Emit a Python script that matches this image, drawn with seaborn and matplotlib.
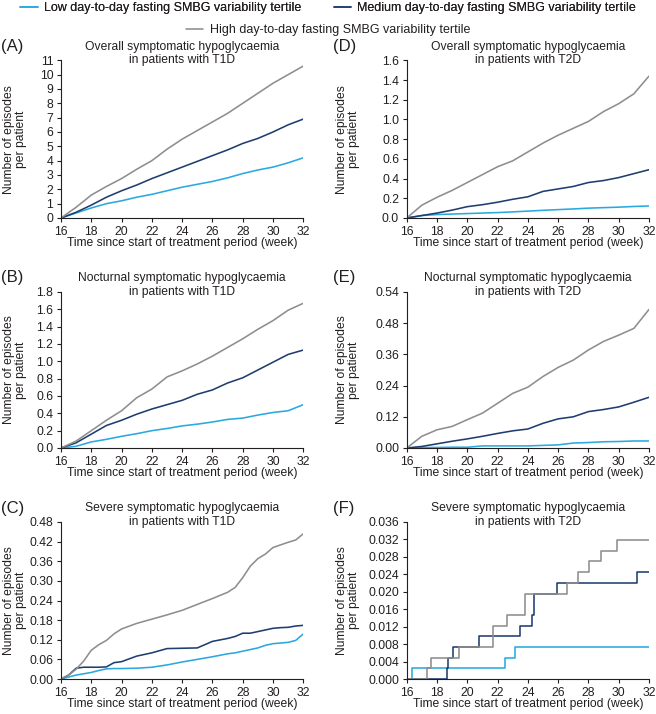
import matplotlib
matplotlib.use("Agg")
import matplotlib.pyplot as plt
from matplotlib.lines import Line2D
import pandas as pd
import seaborn as sns

# ---------------- data ----------------
series_names = [
    "Low day-to-day fasting SMBG variability tertile",
    "Medium day-to-day fasting SMBG variability tertile",
    "High day-to-day fasting SMBG variability tertile",
]
series_colors = ["#29a9e0", "#203d70", "#8e8e8e"]

weeks = [16, 17, 18, 19, 20, 21, 22, 23, 24, 25, 26, 27, 28, 29, 30, 31, 32]

# (A) Overall symptomatic, T1D
a_low = [0, 0.35, 0.7, 1.0, 1.2, 1.45, 1.65, 1.9, 2.15, 2.35, 2.55, 2.8, 3.1, 3.35, 3.55, 3.85, 4.2]
a_med = [0, 0.4, 0.9, 1.45, 1.9, 2.3, 2.75, 3.15, 3.55, 3.95, 4.35, 4.75, 5.2, 5.55, 6.0, 6.5, 6.9]
a_high = [0, 0.75, 1.6, 2.2, 2.75, 3.4, 4.0, 4.8, 5.5, 6.1, 6.7, 7.3, 8.0, 8.7, 9.4, 10.0, 10.6]

# (B) Nocturnal symptomatic, T1D
b_low = [0, 0.02, 0.07, 0.1, 0.135, 0.165, 0.2, 0.225, 0.255, 0.275, 0.3, 0.33, 0.345, 0.38, 0.41, 0.43, 0.5]
b_med = [0, 0.06, 0.16, 0.26, 0.32, 0.39, 0.45, 0.5, 0.55, 0.62, 0.67, 0.75, 0.81, 0.9, 0.99, 1.08, 1.13]
b_high = [0, 0.08, 0.2, 0.32, 0.43, 0.58, 0.68, 0.82, 0.89, 0.97, 1.06, 1.16, 1.26, 1.37, 1.47, 1.59, 1.67]

# (C) Severe symptomatic, T1D
c_weeks = [16, 16.5, 17, 17.5, 18, 18.5, 19, 19.5, 20, 21, 22, 23, 24, 25, 26, 27,
           27.5, 28, 28.5, 29, 29.5, 30, 30.5, 31, 31.5, 32]
c_low = [0, 0.006, 0.012, 0.016, 0.02, 0.026, 0.031, 0.032, 0.032, 0.033, 0.036, 0.043, 0.052,
         0.06, 0.068, 0.077, 0.08, 0.085, 0.09, 0.095, 0.103, 0.108, 0.11, 0.112, 0.118, 0.138]
c_med = [0, 0.012, 0.033, 0.036, 0.036, 0.036, 0.037, 0.05, 0.053, 0.07, 0.08, 0.093, 0.094,
         0.095, 0.115, 0.124, 0.13, 0.14, 0.14, 0.145, 0.15, 0.155, 0.157, 0.158, 0.162, 0.164]
c_high = [0, 0.012, 0.03, 0.055, 0.088, 0.105, 0.118, 0.138, 0.153, 0.17, 0.183, 0.196, 0.21,
          0.228, 0.246, 0.265, 0.28, 0.31, 0.345, 0.368, 0.382, 0.402, 0.41, 0.418, 0.425, 0.444]

# (D) Overall symptomatic, T2D
d_low = [0, 0.025, 0.035, 0.04, 0.045, 0.05, 0.055, 0.062, 0.07, 0.078, 0.085, 0.092, 0.1, 0.105, 0.11, 0.117, 0.122]
d_med = [0, 0.025, 0.05, 0.08, 0.115, 0.135, 0.16, 0.19, 0.215, 0.27, 0.295, 0.32, 0.36, 0.38, 0.41, 0.45, 0.49]
d_high = [0, 0.13, 0.21, 0.28, 0.36, 0.44, 0.52, 0.58, 0.67, 0.76, 0.84, 0.91, 0.98, 1.08, 1.16, 1.26, 1.44]

# (E) Nocturnal symptomatic, T2D
e_low = [0, 0.002, 0.002, 0.003, 0.003, 0.008, 0.008, 0.008, 0.008, 0.01, 0.012, 0.019, 0.021, 0.024, 0.025, 0.027, 0.027]
e_med = [0, 0.006, 0.016, 0.026, 0.035, 0.045, 0.056, 0.066, 0.073, 0.095, 0.112, 0.12, 0.14, 0.148, 0.158, 0.176, 0.195]
e_high = [0, 0.045, 0.07, 0.083, 0.109, 0.134, 0.172, 0.21, 0.234, 0.275, 0.31, 0.338, 0.377, 0.41, 0.434, 0.46, 0.533]

# (F) Severe symptomatic, T2D (step functions)
f_low_weeks = [16, 16.33, 22.51, 23.13, 32]
f_low = [0, 0.00245, 0.0049, 0.00735, 0.00735]
f_med_weeks = [16, 18.64, 18.75, 19.04, 20.8, 23.48, 24.26, 24.41, 25.95, 31.2, 32]
f_med = [0, 0.00245, 0.0049, 0.00735, 0.0098, 0.01225, 0.0147, 0.0196, 0.02205, 0.0245, 0.0245]
f_high_weeks = [16, 17.32, 17.58, 19.47, 21.72, 22.65, 23.8, 26.57, 27.34, 28.06, 28.83, 29.87, 32]
f_high = [0, 0.00245, 0.0049, 0.00735, 0.01225, 0.0147, 0.0196, 0.02205, 0.0245, 0.02695,
          0.0294, 0.03185, 0.03185]

x_ticks = [16, 18, 20, 22, 24, 26, 28, 30, 32]
a_yticks = list(range(0, 12))
a_ylabels = [str(v) for v in a_yticks]
b_yticks = [0.0, 0.2, 0.4, 0.6, 0.8, 1.0, 1.2, 1.4, 1.6, 1.8]
b_ylabels = ["0.0", "0.2", "0.4", "0.6", "0.8", "1.0", "1.2", "1.4", "1.6", "1.8"]
c_yticks = [0.0, 0.06, 0.12, 0.18, 0.24, 0.30, 0.36, 0.42, 0.48]
c_ylabels = ["0.00", "0.06", "0.12", "0.18", "0.24", "0.30", "0.36", "0.42", "0.48"]
d_yticks = [0.0, 0.2, 0.4, 0.6, 0.8, 1.0, 1.2, 1.4, 1.6]
d_ylabels = ["0.0", "0.2", "0.4", "0.6", "0.8", "1.0", "1.2", "1.4", "1.6"]
e_yticks = [0.0, 0.12, 0.24, 0.36, 0.48, 0.60]
e_ylabels = ["0.00", "0.12", "0.24", "0.36", "0.48", "0.54"]
f_yticks = [0.0, 0.004, 0.008, 0.012, 0.016, 0.020, 0.024, 0.028, 0.032, 0.036]
f_ylabels = ["0.000", "0.004", "0.008", "0.012", "0.016", "0.020", "0.024", "0.028", "0.032", "0.036"]

titles = {
    "A": "Overall symptomatic hypoglycaemia\nin patients with T1D",
    "B": "Nocturnal symptomatic hypoglycaemia\nin patients with T1D",
    "C": "Severe symptomatic hypoglycaemia\nin patients with T1D",
    "D": "Overall symptomatic hypoglycaemia\nin patients with T2D",
    "E": "Nocturnal symptomatic hypoglycaemia\nin patients with T2D",
    "F": "Severe symptomatic hypoglycaemia\nin patients with T2D",
}
x_label = "Time since start of treatment period (week)"
y_label = "Number of episodes\nper patient"

# ---------------- style ----------------
sns.set_theme(style="ticks")
plt.rcParams['font.family'] = ['Liberation Sans', 'DejaVu Sans']
ink = "#231f20"
plt.rcParams.update({
    "text.color": ink, "axes.labelcolor": ink, "xtick.color": ink, "ytick.color": ink,
    "axes.edgecolor": ink, "axes.linewidth": 0.8,
    "xtick.major.size": 3, "ytick.major.size": 3,
    "xtick.major.width": 0.8, "ytick.major.width": 0.8,
    "xtick.major.pad": 2.5, "ytick.major.pad": 2.5,
    "font.size": 8.7,
})

W, H = 656, 714
fig = plt.figure(figsize=(W / 100, H / 100), dpi=100)

def rect(left, top, bottom, width=242.3):
    return [left / W, 1 - bottom / H, width / W, (bottom - top) / H]

layout = {
    "A": (61, 60.3, 218), "B": (61, 292, 448), "C": (61, 522, 679),
    "D": (406.7, 60.3, 218), "E": (406.7, 292, 448), "F": (406.7, 522, 679),
}

panels = {
    "A": (weeks, [a_low, a_med, a_high], None, a_yticks, a_ylabels),
    "B": (weeks, [b_low, b_med, b_high], None, b_yticks, b_ylabels),
    "C": (c_weeks, [c_low, c_med, c_high], None, c_yticks, c_ylabels),
    "D": (weeks, [d_low, d_med, d_high], None, d_yticks, d_ylabels),
    "E": (weeks, [e_low, e_med, e_high], None, e_yticks, e_ylabels),
    "F": (None, [f_low, f_med, f_high], [f_low_weeks, f_med_weeks, f_high_weeks], f_yticks, f_ylabels),
}

for key, (xs, ys, xs_list, yt, yl) in panels.items():
    left, top, bottom = layout[key]
    hpx = bottom - top
    ax = fig.add_axes(rect(left, top, bottom))
    for i, yv in enumerate(ys):
        xv = xs if xs is not None else xs_list[i]
        df = pd.DataFrame({"week": xv, "episodes": yv})
        kw = {"drawstyle": "steps-post"} if key == "F" else {}
        sns.lineplot(data=df, x="week", y="episodes", color=series_colors[i],
                     linewidth=1.15, estimator=None, sort=False, ax=ax, **kw)
    ax.set_xlim(16, 32)
    ax.set_ylim(yt[0], yt[-1])
    ax.set_xticks(x_ticks)
    ax.set_yticks(yt)
    ax.set_yticklabels(yl)
    ax.tick_params(labelsize=8.8)
    sns.despine(ax=ax)
    ax.set_xlabel(x_label, fontsize=8.7)
    ax.xaxis.label.set_verticalalignment("center")
    ax.xaxis.set_label_coords(0.5, -25 / hpx)
    ax.set_ylabel(y_label, fontsize=8.7, linespacing=1.1)
    ax.yaxis.label.set_verticalalignment("center")
    lab_x = 15 if left < 100 else 348
    ax.yaxis.set_label_coords((lab_x - left) / 242.3, 0.5)
    ax.text(0.5, 1 + 7 / hpx, titles[key], transform=ax.transAxes, ha="center",
            va="center", fontsize=8.7, linespacing=1.15)
    px = 1 if left < 100 else 333
    fig.text(px / W, 1 - (top - 14) / H, f"({key})", ha="left", va="center", fontsize=12)

handles = [Line2D([], [], color=c, linewidth=1.15) for c in series_colors]
leg1 = fig.legend(handles[:2], series_names[:2], loc="center", bbox_to_anchor=(0.5, 1 - 8 / H),
                  ncol=2, frameon=False, fontsize=9.0, handlelength=1.4, handletextpad=0.5,
                  columnspacing=2.6, borderaxespad=0, borderpad=0)
fig.add_artist(leg1)
fig.legend(handles[2:], series_names[2:], loc="center", bbox_to_anchor=(0.5, 1 - 30 / H),
           ncol=1, frameon=False, fontsize=9.0, handlelength=1.4, handletextpad=0.5,
           borderaxespad=0, borderpad=0)

fig.savefig("out.png", dpi=100)
